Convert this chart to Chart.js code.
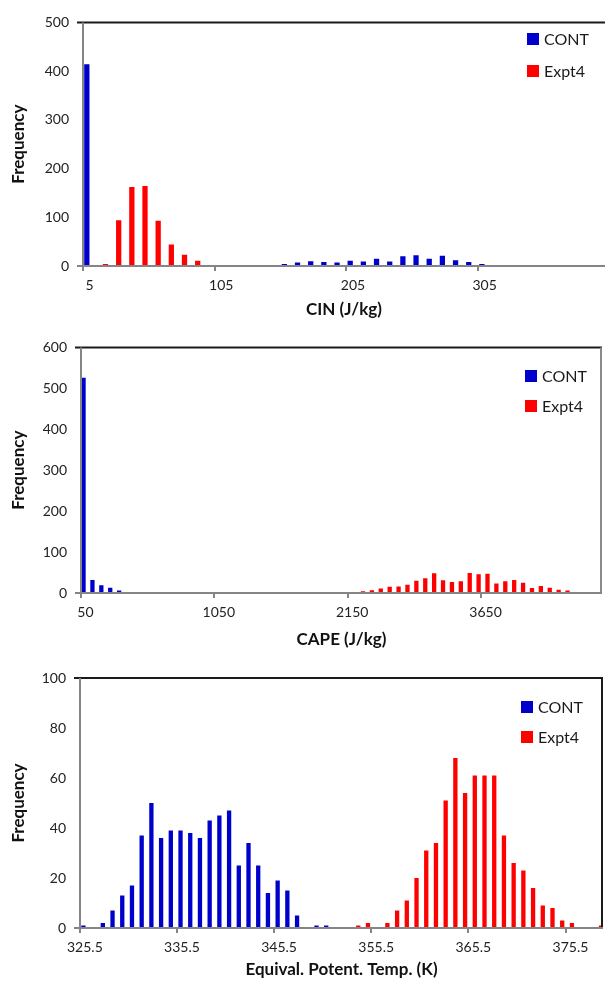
<!DOCTYPE html>
<html>
<head>
<meta charset="utf-8">
<title>CIN / CAPE / Theta-e histograms</title>
<script src="https://cdn.jsdelivr.net/npm/chart.js@4.4.0/dist/chart.umd.min.js"></script>
<style>
  html, body { margin: 0; padding: 0; background: #fff; }
  body { width: 605px; height: 982px; position: relative; overflow: hidden;
         font-family: Lato, 'Liberation Sans', sans-serif; }
  .panel { position: absolute; left: 0; width: 605px; }
  .panel canvas { display: block; }
  .legend { position: absolute; font-size: 16px; color: #1a1a1a; }
  .legend .row { position: absolute; left: 0; height: 12px; line-height: 12px;
                 display: flex; align-items: center; white-space: nowrap; }
  .legend .sw { width: 12px; height: 12px; margin-right: 5px; flex-shrink: 0; }
</style>
</head>
<body>
<div class="panel" id="p1" style="top:0;height:325px"><canvas id="c1" width="605" height="325"></canvas></div>
<div class="panel" id="p2" style="top:325px;height:330px"><canvas id="c2" width="605" height="330"></canvas></div>
<div class="panel" id="p3" style="top:655px;height:327px"><canvas id="c3" width="605" height="327"></canvas></div>

<script>
// ------ Data ------

const seriesNames  = ['CONT', 'Expt4'];
const seriesColors = ['#0000CD', '#FF0000'];

// CIN (J/kg), bins of 10
const cinBins = [5, 15, 25, 35, 45, 55, 65, 75, 85, 95,
                 105, 115, 125, 135, 145, 155, 165, 175, 185, 195,
                 205, 215, 225, 235, 245, 255, 265, 275, 285, 295,
                 305, 315, 325, 335, 345, 355, 365, 375, 385, 395];
const cinCont = [414, 0, 0, 0, 0, 0, 0, 0, 0, 0,
                 0, 0, 0, 1, 2, 4, 7, 10, 8, 7,
                 11, 9, 15, 9, 20, 22, 15, 21, 12, 8,
                 4, 1, 2, 1, 0, 0, 0, 0, 0, 0];
const cinExpt = [0, 4, 94, 162, 164, 93, 44, 23, 11, 2,
                 0, 2, 2, 0, 0, 0, 0, 0, 0, 0,
                 0, 0, 0, 0, 0, 0, 0, 0, 0, 0,
                 0, 0, 0, 0, 0, 0, 0, 0, 0, 0];
const cinTicks = [5, 105, 205, 305];

// CAPE (J/kg), uneven bins: only the printed labels are known
const capeCont = [526, 32, 19, 13, 6, 1, 0, 0, 0, 0,
                  0, 0, 0, 0, 0, 0, 0, 0, 0, 0,
                  0, 0, 0, 0, 0, 0, 0, 0, 0, 0,
                  0, 0, 0, 0, 0, 0, 0, 0, 0, 0,
                  0, 0, 0, 0, 0, 0, 0, 0, 0, 0,
                  0, 0, 0, 0, 0, 0, 0, 0, 0];
const capeExpt = [0, 0, 0, 0, 0, 0, 0, 0, 0, 0,
                  0, 0, 0, 0, 0, 0, 0, 0, 0, 0,
                  0, 0, 0, 1, 0, 0, 1, 1, 1, 1,
                  2, 4, 7, 11, 15, 16, 20, 30, 36, 48,
                  31, 27, 29, 49, 46, 47, 23, 29, 32, 25,
                  12, 17, 13, 8, 6, 1, 1, 1, 0];
const capeTickIdx    = [0, 15, 30, 45];
const capeTickLabels = ['50', '1050', '2150', '3650'];

// Equivalent potential temperature (K), bins of 1
const tempBins = [325.5, 326.5, 327.5, 328.5, 329.5, 330.5, 331.5, 332.5, 333.5, 334.5,
                  335.5, 336.5, 337.5, 338.5, 339.5, 340.5, 341.5, 342.5, 343.5, 344.5,
                  345.5, 346.5, 347.5, 348.5, 349.5, 350.5, 351.5, 352.5, 353.5, 354.5,
                  355.5, 356.5, 357.5, 358.5, 359.5, 360.5, 361.5, 362.5, 363.5, 364.5,
                  365.5, 366.5, 367.5, 368.5, 369.5, 370.5, 371.5, 372.5, 373.5, 374.5,
                  375.5, 376.5, 377.5, 378.5];
const tempCont = [1, 0, 2, 7, 13, 17, 37, 50, 36, 39,
                  39, 38, 36, 43, 45, 47, 25, 34, 25, 14,
                  19, 15, 5, 0, 1, 1, 0, 0, 0, 0,
                  0, 0, 0, 0, 0, 0, 0, 0, 0, 0,
                  0, 0, 0, 0, 0, 0, 0, 0, 0, 0,
                  0, 0, 0, 0];
const tempExpt = [0, 0, 0, 0, 0, 0, 0, 0, 0, 0,
                  0, 0, 0, 0, 0, 0, 0, 0, 0, 0,
                  0, 0, 0, 0, 0, 0, 0, 0, 1, 2,
                  0, 2, 7, 11, 20, 31, 34, 51, 68, 54,
                  61, 61, 61, 37, 26, 23, 16, 9, 8, 3,
                  2, 0, 0, 1];
const tempTicks = [325.5, 335.5, 345.5, 355.5, 365.5, 375.5];

// ------ Chart setup ------

Chart.defaults.font.family = "Lato, 'Liberation Sans', sans-serif";
Chart.defaults.color = '#222';

// plot frame: black top / right border, grey axes, small tick marks at bin edges
const framePlugin = {
  id: 'frame',
  afterDatasetsDraw(chart, args, o) {
    const { ctx, chartArea: a, scales: { x } } = chart;
    const seg = (x1, y1, x2, y2) => { ctx.beginPath(); ctx.moveTo(x1, y1); ctx.lineTo(x2, y2); ctx.stroke(); };
    ctx.save();
    ctx.lineWidth = 2;
    ctx.strokeStyle = '#1a1a1a';
    seg(a.left - 6, a.top, a.right, a.top);
    if (o.rightColor) { ctx.strokeStyle = o.rightColor; seg(a.right - 1, a.top, a.right - 1, a.bottom); }
    ctx.strokeStyle = '#858585';
    seg(a.left, a.top, a.left, a.bottom);
    seg(a.left - 6, a.bottom, a.right, a.bottom);
    (o.marks || []).forEach(v => {
      const px = Math.round(x.getPixelForValue(v));
      seg(px, a.bottom, px, a.bottom + 5);
    });
    ctx.restore();
  }
};

function histogram(id, p) {
  return new Chart(document.getElementById(id), {
    type: 'bar',
    data: {
      labels: p.bins,
      datasets: [p.cont, p.expt].map((d, i) => ({
        label: seriesNames[i], data: d, backgroundColor: seriesColors[i],
        borderWidth: 0, categoryPercentage: p.cp, barPercentage: p.bp
      }))
    },
    options: {
      responsive: false, animation: false, events: [],
      layout: { padding: { top: p.top, right: p.right, left: 0, bottom: 0 } },
      plugins: {
        legend: { display: false }, tooltip: { enabled: false },
        frame: { marks: p.ticks.map(v => v - p.binW / 2), rightColor: p.rightColor }
      },
      scales: {
        x: {
          type: 'linear', offset: false, min: p.xMin, max: p.xMax,
          grid: { display: false, drawTicks: false }, border: { display: false },
          afterBuildTicks: s => { s.ticks = p.ticks.map(v => ({ value: v })); },
          afterFit: s => { s.height = p.xAxisH; },
          ticks: { autoSkip: false, maxRotation: 0, padding: 11, font: { size: 14 }, callback: p.tickText },
          title: { display: true, text: p.xTitle, color: '#111',
                   font: { size: 17, weight: 'bold' }, padding: { top: 0, bottom: p.titlePad } }
        },
        y: {
          min: 0, max: p.yMax,
          grid: { display: false, drawTicks: false }, border: { display: false },
          afterFit: s => { s.width = p.left; },
          ticks: { stepSize: p.yStep, padding: 14, font: { size: 14 } },
          title: { display: true, text: 'Frequency', color: '#111',
                   font: { size: 17, weight: 'bold' }, padding: { top: 8, bottom: 0 } }
        }
      }
    },
    plugins: [framePlugin]
  });
}

function addLegend(panelId, chart, left, top, gap) {
  const box = document.createElement('div');
  box.className = 'legend';
  box.style.left = left + 'px';
  box.style.top  = top + 'px';
  chart.data.datasets.forEach((ds, i) => {
    const row = document.createElement('div');
    row.className = 'row';
    row.style.top = (i * gap) + 'px';
    row.innerHTML = `<span class="sw" style="background:${ds.backgroundColor}"></span><span>${ds.label}</span>`;
    box.appendChild(row);
  });
  document.getElementById(panelId).appendChild(box);
}

// ------ Panels ------

const cinChart = histogram('c1', {
  bins: cinBins, cont: cinCont, expt: cinExpt, ticks: cinTicks, binW: 10,
  tickText: v => String(v), xMin: 0, xMax: 396.4, yMax: 500, yStep: 100,
  xTitle: 'CIN (J/kg)', top: 15, right: 0, left: 83, xAxisH: 59, titlePad: 5,
  cp: 0.835, bp: 0.96
});
addLegend('p1', cinChart, 527, 33, 31.5);

const capeChart = histogram('c2', {
  bins: capeCont.map((_, i) => i), cont: capeCont, expt: capeExpt, ticks: capeTickIdx, binW: 1,
  tickText: (v, i) => capeTickLabels[i], xMin: -0.5, xMax: 58.09, yMax: 600, yStep: 100,
  xTitle: 'CAPE (J/kg)', top: 20, right: 3, left: 81, xAxisH: 62, titlePad: 5,
  cp: 0.855, bp: 1.13, rightColor: '#8a8a8a'
});
addLegend('p2', capeChart, 525, 45, 29.5);

const tempChart = histogram('c3', {
  bins: tempBins, cont: tempCont, expt: tempExpt, ticks: tempTicks, binW: 1,
  tickText: v => v.toFixed(1), xMin: 325, xMax: 378.85, yMax: 100, yStep: 20,
  xTitle: 'Equival. Potent. Temp. (K)', top: 23, right: 2, left: 80, xAxisH: 54, titlePad: 2,
  cp: 0.6, bp: 1.48, rightColor: '#1a1a1a'
});
addLegend('p3', tempChart, 521, 46, 30.3);
</script>
</body>
</html>
